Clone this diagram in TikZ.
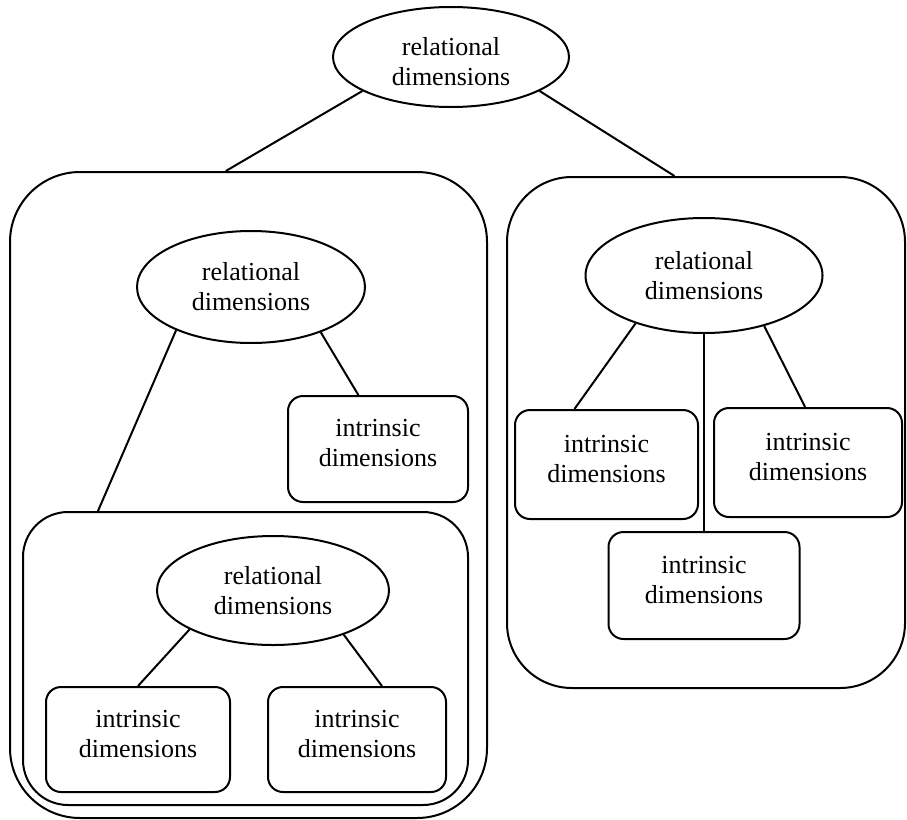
\documentclass[tikz,border=0pt]{standalone}
\usepackage{fontspec}
\setmainfont{Liberation Serif}
\newfontfamily\labelfont{Liberation Serif}
\usetikzlibrary{shapes.geometric}

\begin{document}
\begin{tikzpicture}[x=1pt, y=-1pt, line width=2pt,
  relational/.style={draw, ellipse, align=center, inner sep=0pt,
    minimum width=232pt, minimum height=109pt, font=\labelfont\fontsize{26}{30}\selectfont},
  intrinsic/.style={draw, rounded corners=15pt, align=center, inner sep=0pt, text depth=12pt,
    minimum width=184pt, minimum height=106pt, font=\labelfont\fontsize{26}{30}\selectfont},
  container/.style={draw, rounded corners=#1, inner sep=0pt}]
\useasboundingbox (0,0) rectangle (907,819);

% top level
\node[relational, minimum width=236pt, minimum height=100pt, text height=58pt] (rel) at (451,57) {relational\\dimensions};

% left group
\node[container=70pt, minimum width=477pt, minimum height=646pt] (leftgrp) at (248.5,495) {};
\node[relational, minimum width=228pt, minimum height=112pt] (leftrel) at (251,287) {relational\\dimensions};
\node[intrinsic, minimum width=180pt] (leftintr) at (378,449) {intrinsic\\dimensions};

% nested group inside the left one
\node[container=45pt, minimum width=445pt, minimum height=293pt] (nestgrp) at (245.5,658.5) {};
\node[relational] (nestrel) at (273,590.5) {relational\\dimensions};
\node[intrinsic, minimum height=105pt] (nestintra) at (138,739.5) {intrinsic\\dimensions};
\node[intrinsic, minimum width=178pt, minimum height=105pt] (nestintrb) at (357,739.5) {intrinsic\\dimensions};

% right group
\node[container=65pt, minimum width=398pt, minimum height=511pt] (rightgrp) at (706,432.5) {};
\node[relational, minimum width=237pt, minimum height=115pt] (rightrel) at (704,275.5) {relational\\dimensions};
\node[intrinsic, minimum width=183pt, minimum height=109pt] (rightintra) at (606.5,464.5) {intrinsic\\dimensions};
\node[intrinsic, minimum width=188pt, minimum height=109pt] (rightintrb) at (808,462.5) {intrinsic\\dimensions};
\node[intrinsic, minimum width=191pt, minimum height=107pt] (rightintrc) at (704,585.5) {intrinsic\\dimensions};

% connectors
\draw (rel.201) -- (leftgrp.94);
\draw (rel.339) -- (rightgrp.97);
\draw (leftrel.327) -- (leftintr.110);
\draw (leftrel.210) -- (nestgrp.135);
\draw (nestrel.205) -- (nestintra.north);
\draw (nestrel.328) -- (nestintrb.65);
\draw (rightrel.215) -- (rightintra.120);
\draw (rightrel) -- (rightintrc);
\draw (rightrel.320) -- (rightintrb.93);
\end{tikzpicture}
\end{document}
